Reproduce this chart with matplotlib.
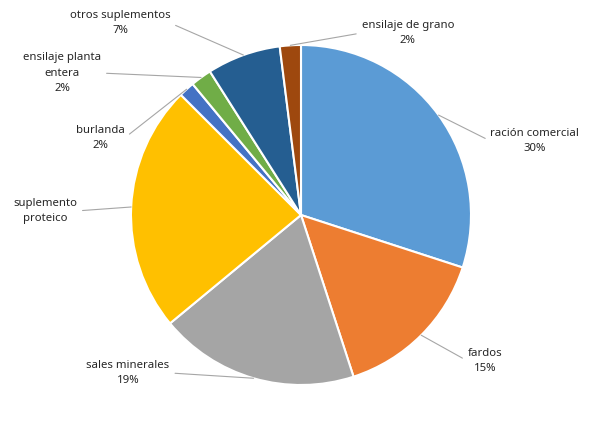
import numpy as np
import matplotlib.pyplot as plt

categories = ["ración comercial", "fardos", "sales minerales", "suplemento\nproteico",
              "burlanda", "ensilaje planta\nentera", "otros suplementos", "ensilaje de grano"]
values = [30, 15, 19, 23.5, 1.5, 2, 7, 2]
show_pct = [True, True, True, False, True, True, True, True]
colors = ["#5B9BD5", "#ED7D31", "#A5A5A5", "#FFC000", "#4472C4", "#70AD47", "#255E91", "#9E480E"]

# label centres (data units, pie radius = 1) and which side the leader line attaches
label_pos = [(1.376, 0.435), (1.082, -0.859), (-1.018, -0.929), (-1.506, 0.024),
             (-1.182, 0.453), (-1.406, 0.835), (-1.065, 1.129), (0.629, 1.071)]
attach = [0, 0, 1, 1, 1, 1, 1, 0]

plt.rcParams['font.family'] = ['Noto Sans', 'DejaVu Sans']

fig = plt.figure(figsize=(5.98, 4.21), dpi=100)
ax = fig.add_axes([0, 0, 1, 1])
wedges, _ = ax.pie(values, colors=colors, startangle=90, counterclock=False,
                   radius=1, wedgeprops=dict(edgecolor="white", linewidth=1.5))

total = sum(values)
for w, name, v, sp, pos, a in zip(wedges, categories, values, show_pct, label_pos, attach):
    mid = np.deg2rad((w.theta1 + w.theta2) / 2)
    pt = (np.cos(mid), np.sin(mid))
    txt = name + (f"\n{v / total * 100:.0f}%" if sp else "")
    ax.annotate(txt, xy=pt, xytext=pos, ha="center", va="center",
                fontsize=8.2, color="#262626", linespacing=1.6,
                arrowprops=dict(arrowstyle="-", color="#A6A6A6", lw=0.8,
                                relpos=(a, 0.5), shrinkA=2, shrinkB=0))

ax.set_xlim(-301 / 170, (598 - 301) / 170)
ax.set_ylim(-206 / 170, 215 / 170)
ax.set_aspect("auto")
ax.axis("off")
fig.savefig("out.png", dpi=100)
